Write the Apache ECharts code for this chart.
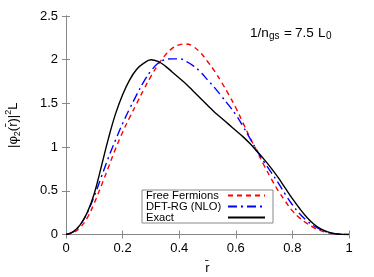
<!DOCTYPE html>
<html>
<head>
<meta charset="utf-8">
<script src="https://cdn.jsdelivr.net/npm/echarts@6/dist/echarts.min.js"></script>
<style>
html,body{margin:0;padding:0;background:#fff;}
#c{width:374px;height:277px;}
</style>
</head>
<body>
<div id="c"></div>
<script>
// r-bar sample positions
const rGrid = [0,0.025,0.05,0.075,0.1,0.125,0.15,0.175,0.2,0.225,0.25,0.275,0.3,0.325,0.35,0.375,0.4,0.425,0.45,0.475,0.5,0.525,0.55,0.575,0.6,0.625,0.65,0.675,0.7,0.725,0.75,0.775,0.8,0.825,0.85,0.875,0.9,0.925,0.95,0.975,1];
const freeFermions = [0,0.02,0.08,0.19,0.36,0.56,0.77,0.98,1.17,1.34,1.50,1.66,1.81,1.94,2.05,2.13,2.17,2.18,2.15,2.08,1.98,1.87,1.74,1.60,1.45,1.28,1.11,0.95,0.79,0.64,0.50,0.38,0.27,0.19,0.13,0.08,0.045,0.02,0.006,0.001,0];
const dftRg = [0,0.03,0.11,0.25,0.44,0.66,0.88,1.08,1.27,1.44,1.60,1.75,1.87,1.96,2.00,2.01,2.01,1.98,1.93,1.86,1.77,1.68,1.58,1.48,1.37,1.24,1.10,0.96,0.83,0.71,0.59,0.46,0.34,0.24,0.16,0.10,0.055,0.025,0.008,0.001,0];
const exact = [0,0.03,0.11,0.25,0.47,0.78,1.10,1.38,1.60,1.77,1.89,1.96,2.00,1.98,1.93,1.86,1.79,1.72,1.64,1.56,1.48,1.40,1.33,1.26,1.19,1.12,1.04,0.95,0.86,0.76,0.65,0.53,0.41,0.30,0.20,0.12,0.065,0.03,0.01,0.002,0];
const xTicks = [0,0.2,0.4,0.6,0.8,1];
const yTicks = [0,0.5,1,1.5,2,2.5];
const seriesNames = ['Free Fermions','DFT-RG (NLO)','Exact'];
const annotationParts = ['1/n','gs','=','7.5','L','0'];

const pairs = arr => rGrid.map((r,i)=>[r,arr[i]]);
const FONT = 'Liberation Sans';

const chart = echarts.init(document.getElementById('c'), null, {renderer:'canvas'});
const axisCommon = {
  type:'value', min:0,
  axisTick:{show:true, inside:true, length:4, lineStyle:{color:'#888'}},
  splitLine:{show:false},
  axisLine:{show:true, lineStyle:{color:'#888', width:1}}
};
const mainTxt = (t, x) => ({type:'text', x:x, y:26, z:10, style:{text:t, fill:'#000', fontSize:13.5, fontFamily:FONT, verticalAlign:'top', align:'left'}});
const subTxt = (t, x) => ({type:'text', x:x, y:31.5, z:10, style:{text:t, fill:'#000', fontSize:10, fontFamily:FONT, verticalAlign:'top', align:'left'}});

chart.setOption({
  animation:false,
  textStyle:{fontFamily:FONT},
  grid:{left:66, right:25, top:16, bottom:42.5, containLabel:false, outerBoundsMode:'none'},
  xAxis:[
    Object.assign({}, axisCommon, {
      max:1, interval:0.2, position:'bottom',
      axisLine:{show:true, lineStyle:{color:'#222', width:1}},
      axisLabel:{show:true, color:'#000', fontSize:13, margin:7, fontFamily:FONT,
        formatter:v=>{const t=xTicks.find(x=>Math.abs(x-v)<1e-9); return t===undefined?'':String(t);}},
      name:'r\u0304', nameLocation:'middle', nameGap:27,
      nameTextStyle:{color:'#000', fontSize:13, fontFamily:FONT}
    }),
    Object.assign({}, axisCommon, {
      max:1, interval:0.2, position:'top', axisLabel:{show:false}
    })
  ],
  yAxis:[
    Object.assign({}, axisCommon, {
      max:2.5, interval:0.5, position:'left',
      axisLabel:{show:true, color:'#000', fontSize:13, margin:8, fontFamily:FONT,
        formatter:v=>{const t=yTicks.find(x=>Math.abs(x-v)<1e-9); return t===undefined?'':String(t);}},
      name:'{a||\u03C6}{s|2}{a|(r\u0304)|}{p|2}{a|L}', nameLocation:'middle', nameGap:44, nameRotate:90,
      nameTextStyle:{color:'#000', fontFamily:FONT,
        rich:{
          a:{fontSize:13, lineHeight:18, verticalAlign:'middle', fontFamily:FONT, color:'#000'},
          s:{fontSize:9, lineHeight:9, verticalAlign:'bottom', fontFamily:FONT, color:'#000'},
          p:{fontSize:9, lineHeight:9, verticalAlign:'top', fontFamily:FONT, color:'#000'}
        }}
    }),
    Object.assign({}, axisCommon, {
      max:2.5, interval:0.5, position:'right', axisLabel:{show:false}
    })
  ],
  legend:{
    show:true, orient:'vertical', left:142, top:190,
    align:'right',
    data:seriesNames,
    itemWidth:37, itemHeight:13.7, itemGap:0,
    padding:[0,7,0,4],
    backgroundColor:'#fff', borderColor:'#888', borderWidth:1, borderRadius:0,
    itemStyle:{opacity:0, borderWidth:0},
    formatter: n => '{n|' + n + '}',
    textStyle:{color:'#000', fontSize:11.2, fontFamily:FONT,
      rich:{n:{width:77, align:'left', fontSize:11.2, lineHeight:13.7, fontFamily:FONT, color:'#000'}}}
  },
  graphic:[
    mainTxt(annotationParts[0], 250),
    subTxt(annotationParts[1], 269),
    mainTxt(annotationParts[2], 284),
    mainTxt(annotationParts[3], 295),
    mainTxt(annotationParts[4], 318),
    subTxt(annotationParts[5], 326)
  ],
  series:[
    {name:seriesNames[0], type:'line', data:pairs(freeFermions), smooth:0.4, symbol:'none', showSymbol:false,
     lineStyle:{color:'#ff0000', width:1.4, type:[5,4]}, itemStyle:{color:'#ff0000'}, z:3},
    {name:seriesNames[1], type:'line', data:pairs(dftRg), smooth:0.4, symbol:'none', showSymbol:false,
     lineStyle:{color:'#0000ff', width:1.4, type:[9,4,2,4]}, itemStyle:{color:'#0000ff'}, z:4},
    {name:seriesNames[2], type:'line', data:pairs(exact), smooth:0.4, symbol:'none', showSymbol:false,
     lineStyle:{color:'#000000', width:1.4, type:'solid'}, itemStyle:{color:'#000000'}, z:5}
  ]
});
</script>
</body>
</html>
